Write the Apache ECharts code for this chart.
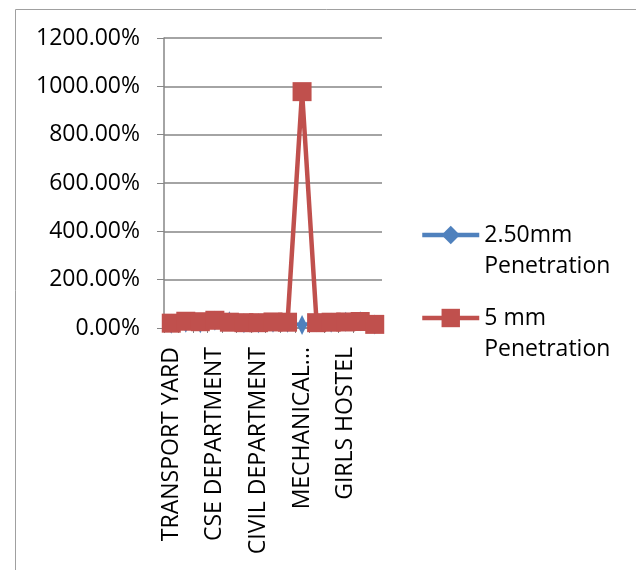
<!DOCTYPE html>
<html><head><meta charset="utf-8">
<script src="https://cdn.jsdelivr.net/npm/echarts@6/dist/echarts.min.js"></script>
<style>html,body{margin:0;padding:0;background:#fff}#c{width:636px;height:570px}</style>
</head><body><div id="c"></div>
<script>
const categories = ['TRANSPORT YARD','','','CSE DEPARTMENT','','','CIVIL DEPARTMENT','','','MECHANICAL...','','','GIRLS HOSTEL','',''];
const pen250 = [18, 22, 20, 30, 28, 20, 20, 22, 22, 12, 24, 22, 26, 28, 14];
const pen500 = [20, 28, 26, 32, 24, 22, 22, 25, 24, 978, 22, 24, 25, 27, 15];
const yTicks = { min: 0, max: 1200, interval: 200 };
const seriesNames = ['2.50mm Penetration', '5 mm Penetration'];

const FONT = 'Open Sans';
const chart = echarts.init(document.getElementById('c'), null, { renderer: 'canvas' });
const LH = 31;
const legendCommon = {
  orient: 'vertical', left: 420, padding: 0, itemWidth: 57, itemHeight: 23, itemGap: 0,
  lineStyle: { width: 4.5 },
  textStyle: { fontFamily: FONT, fontSize: 23, color: '#000', lineHeight: LH },
  formatter: n => ' \n' + n.replace(' Penetration', '\nPenetration')
};
chart.setOption({
  animation: false,
  graphic: [{ type: 'rect', shape: { x: 15.5, y: 9.5, width: 640, height: 580 }, style: { fill: 'none', stroke: '#a0a0a0', lineWidth: 1 } }],
  grid: { left: 164, right: 254, top: 38, bottom: 242, outerBoundsMode: 'none' },
  legend: [
    Object.assign({ top: 235 - 1.5 * LH, data: [seriesNames[0]] }, legendCommon),
    Object.assign({ top: 318 - 1.5 * LH, data: [seriesNames[1]] }, legendCommon)
  ],
  xAxis: {
    type: 'category', data: categories, boundaryGap: true,
    axisLine: { lineStyle: { color: '#868686', width: 1.5 } },
    axisTick: { show: true, length: 5, interval: 0, lineStyle: { color: '#868686' } },
    axisLabel: { interval: 2, rotate: 90, margin: 19, fontFamily: FONT, fontSize: 23, color: '#000' }
  },
  yAxis: {
    type: 'value', min: yTicks.min, max: yTicks.max, interval: yTicks.interval,
    axisLine: { show: true, lineStyle: { color: '#868686', width: 1.5 } },
    axisTick: { show: true, length: 7, lineStyle: { color: '#868686' } },
    splitLine: { lineStyle: { color: '#868686', width: 1.5 } },
    axisLabel: { margin: 24, fontFamily: FONT, fontSize: 23, color: '#000', formatter: v => v.toFixed(2) + '%' }
  },
  series: [
    { name: seriesNames[0], type: 'line', data: pen250, symbol: 'diamond', symbolSize: [10, 20], showAllSymbol: true,
      lineStyle: { color: '#4F81BD', width: 4 }, itemStyle: { color: '#4F81BD' }, z: 2 },
    { name: seriesNames[1], type: 'line', data: pen500, symbol: 'rect', symbolSize: 19, showAllSymbol: true,
      lineStyle: { color: '#C0504D', width: 4.5 }, itemStyle: { color: '#C0504D' }, z: 3 }
  ]
});
</script></body></html>
